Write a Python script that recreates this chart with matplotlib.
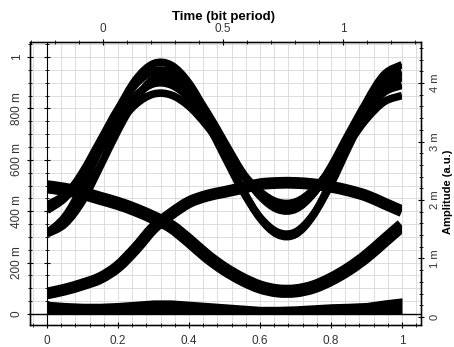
import numpy as np
import matplotlib
matplotlib.use("Agg")
import matplotlib.pyplot as plt
from matplotlib.patches import Rectangle, PathPatch
from matplotlib.path import Path
from matplotlib.ticker import MultipleLocator

plt.rcParams['font.family'] = ['Liberation Sans', 'DejaVu Sans']

# sample times (bit period, bottom scale)
t = [0.00, 0.05, 0.10, 0.15, 0.20, 0.25, 0.30, 0.35, 0.40, 0.45, 0.50,
     0.55, 0.60, 0.65, 0.70, 0.75, 0.80, 0.85, 0.90, 0.95, 1.00]

# large swing traces (left axis units)
big_1 = [.315, .378, .496, .645, .794, .912, .974, .968, .898, .779, .633,
         .488, .373, .309, .310, .384, .516, .675, .825, .932, .970]
big_2 = [.312, .350, .440, .575, .715, .835, .915, .919, .856, .746, .613,
         .481, .376, .318, .319, .387, .506, .652, .788, .885, .920]
big_3 = [.404, .456, .552, .675, .798, .894, .945, .940, .884, .787, .669,
         .552, .459, .407, .408, .468, .574, .702, .823, .909, .940]
big_4 = [.404, .451, .539, .650, .762, .850, .896, .891, .841, .755, .650,
         .545, .462, .416, .417, .470, .565, .679, .786, .863, .890]
big_5 = [.424, .464, .542, .640, .738, .816, .856, .852, .808, .733, .640,
         .549, .476, .435, .436, .483, .565, .665, .759, .826, .850]

# medium swing traces
mid_down = [.495, .485, .470, .450, .430, .405, .375, .340, .285, .225, .175,
            .135, .105, .090, .090, .105, .135, .175, .225, .285, .345]
mid_up = [.080, .095, .115, .140, .185, .255, .335, .390, .435, .460, .475,
          .490, .505, .510, .510, .505, .495, .480, .460, .430, .400]

# zero level band (upper edge)
zero_top = [.050, .045, .042, .042, .045, .050, .055, .055, .050, .045, .040,
            .035, .030, .030, .032, .036, .040, .042, .045, .055, .063]

bottom_ticks = [0, 0.2, 0.4, 0.6, 0.8, 1.0]
bottom_labels = ['0', '0.2', '0.4', '0.6', '0.8', '1']
left_ticks = [0, 0.2, 0.4, 0.6, 0.8, 1.0]
left_labels = ['0', '200 m', '400 m', '600 m', '800 m', '1']
top_ticks = [0, 0.5, 1.0]
top_labels = ['0', '0.5', '1']
right_ticks = [0, 1, 2, 3, 4]
right_labels = ['0', '1 m', '2 m', '3 m', '4 m']

W, H = 454, 347
def box(l, r, top, bot):
    return [l / W, 1 - bot / H, (r - l) / W, (bot - top) / H]

def smooth_path(x, y):
    # Catmull-Rom through the read points, drawn as cubic Bezier pieces
    pts = np.column_stack([x, y])
    n = len(pts)
    verts = [pts[0]]
    codes = [Path.MOVETO]
    for i in range(n - 1):
        p0 = pts[max(i - 1, 0)]
        p1 = pts[i]
        p2 = pts[i + 1]
        p3 = pts[min(i + 2, n - 1)]
        verts += [p1 + (p2 - p0) / 6, p2 - (p3 - p1) / 6, p2]
        codes += [Path.CURVE4] * 3
    return Path(verts, codes)

fig = plt.figure(figsize=(W / 100, H / 100), dpi=100)
ax = fig.add_axes(box(30, 421, 42, 325))
ax.set_xlim(-0.048, 1.0535)
ax.set_ylim(-0.0428, 1.0584)

ax.set_xticks(bottom_ticks, bottom_labels)
ax.set_yticks(left_ticks, left_labels, rotation=90, va='center')
ax.xaxis.set_minor_locator(MultipleLocator(0.04))
ax.yaxis.set_minor_locator(MultipleLocator(0.05))
ax.set_axisbelow(True)
ax.grid(which='both', color='#dcdcdc', lw=0.7)

tick_kw = dict(direction='inout', color='k', labelcolor='#333333', labelsize=8.5)
ax.tick_params(which='major', length=4.5, width=0.8, **tick_kw)
ax.tick_params(which='minor', length=3, width=0.6, direction='inout')
ax.tick_params(axis='x', which='major', pad=5)
ax.tick_params(axis='y', which='major', pad=3)

clip = Rectangle((0, -0.5), 1, 2, transform=ax.transData)

traces = [(big_1, 5.5), (big_2, 5.5), (big_3, 5.5), (big_4, 5.5), (big_5, 5.5),
          (mid_down, 9.5), (mid_up, 8.5)]
for tr, lw in traces:
    pp = PathPatch(smooth_path(t, tr), fill=False, edgecolor='k', lw=lw,
                   capstyle='butt', joinstyle='round')
    ax.add_patch(pp)
    pp.set_clip_path(clip)
fb = ax.fill_between(t, 0, zero_top, color='k', lw=0)
fb.set_clip_path(clip)
ax.axhline(0, color='k', lw=1)

for s in ax.spines.values():
    s.set_linewidth(1)

# top time scale
ax_top = ax.twiny()
ax_top.set_xlim(-0.3043, 1.325)
ax_top.set_xticks(top_ticks, top_labels)
ax_top.xaxis.set_minor_locator(MultipleLocator(0.1))
ax_top.tick_params(which='major', length=4.5, width=0.8, pad=3, **tick_kw)
ax_top.tick_params(which='minor', length=3, width=0.6, direction='inout')

# right amplitude scale
ax_r = ax.twinx()
ax_r.set_ylim(-0.1368, 4.701)
ax_r.set_yticks(right_ticks, right_labels, rotation=90, va='center')
ax_r.yaxis.set_minor_locator(MultipleLocator(0.2))
ax_r.tick_params(which='major', length=4.5, width=0.8, pad=4, direction='inout',
                 color='k', labelcolor='#333333', labelsize=8)
ax_r.tick_params(which='minor', length=3, width=0.6, direction='inout')

# inner left line at t = 0
ax_in = fig.add_axes(box(47, 421, 42, 325))
ax_in.set_ylim(ax.get_ylim())
ax_in.patch.set_visible(False)
for k in ['top', 'right', 'bottom']:
    ax_in.spines[k].set_visible(False)
ax_in.set_xticks([])
ax_in.set_yticks(left_ticks)
ax_in.yaxis.set_minor_locator(MultipleLocator(0.05))
ax_in.tick_params(which='major', length=4.5, width=0.8, direction='inout', labelleft=False)
ax_in.tick_params(which='minor', length=3, width=0.6, direction='inout')

fig.text(224 / W, 1 - 17 / H, 'Time (bit period)', ha='center', va='center',
         fontsize=9.5, fontweight='bold')
fig.text(448 / W, 1 - 192 / H, 'Amplitude (a.u.)', ha='center', va='center',
         rotation=90, fontsize=8, fontweight='bold')

fig.savefig('out.png', dpi=100)
